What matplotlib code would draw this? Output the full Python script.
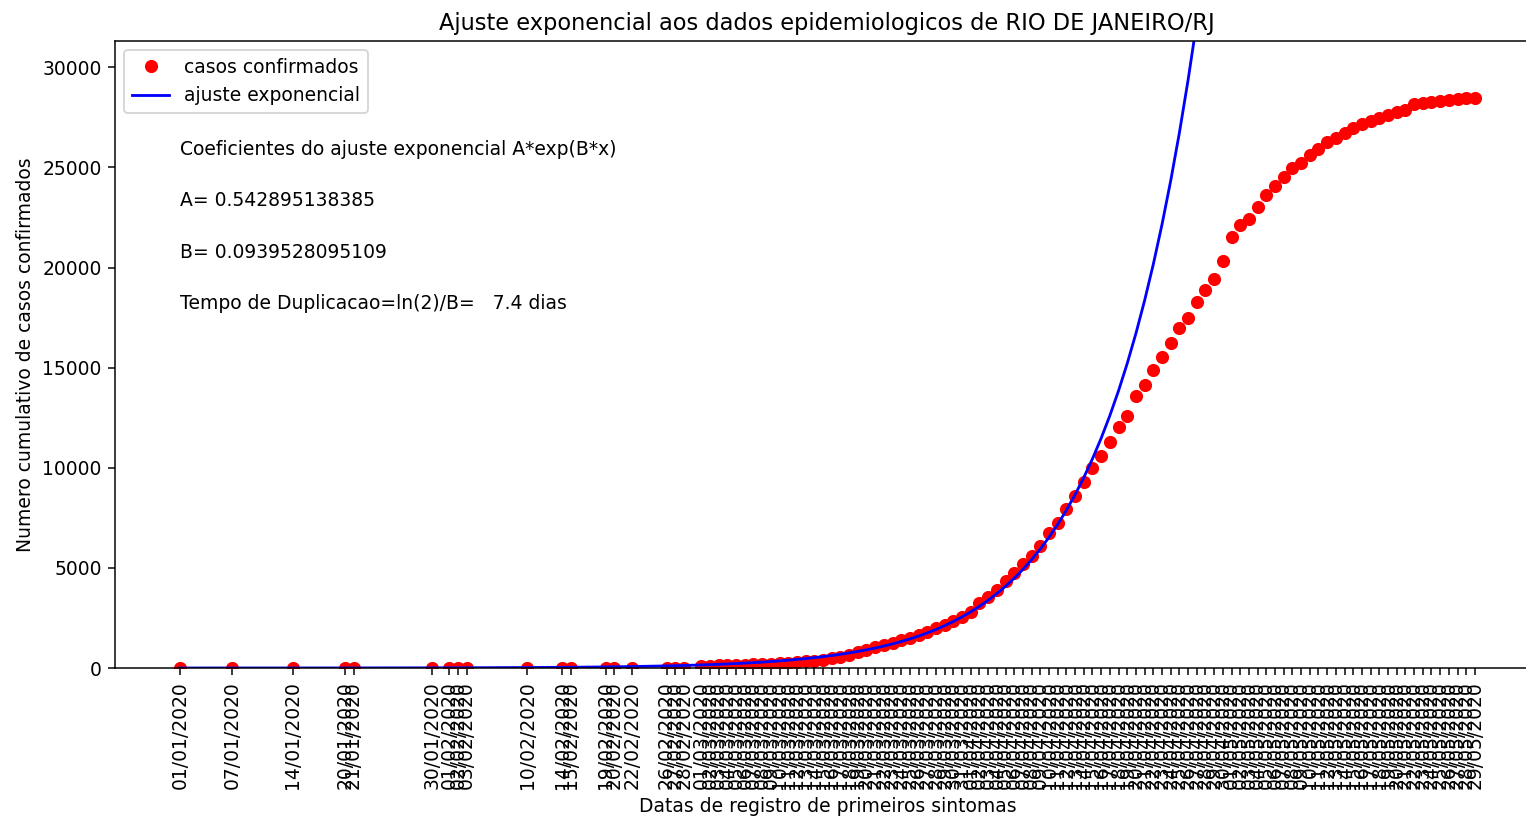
#!/usr/bin/env python3
#
from datetime import datetime

import matplotlib
matplotlib.use('Agg')
import matplotlib.pyplot as plt
import numpy as np
import pandas as pd

CITY = 'RIO DE JANEIRO/RJ'
DPI = 135

# fit coefficients A*exp(B*x), x = days since 01/01/2020
COEF_A = 0.542895138385
COEF_B = 0.0939528095109

EARLY_DATES = ['01/01/2020', '07/01/2020', '14/01/2020', '20/01/2020', '21/01/2020',
               '30/01/2020', '01/02/2020', '02/02/2020', '03/02/2020', '10/02/2020',
               '14/02/2020', '15/02/2020', '19/02/2020', '20/02/2020', '22/02/2020',
               '26/02/2020', '27/02/2020', '28/02/2020']
# from 01/03 on there is one record per day up to 29/05
DAILY_START = '01/03/2020'
DAILY_END = '29/05/2020'

EARLY_CASES = [1, 2, 3, 4, 5, 6, 7, 8, 9, 10, 11, 12, 13, 14, 15, 17, 18, 20]
DAILY_CASES = [
  110, 120, 130, 140, 150, 165, 180, 195, 215, 235,
  260, 290, 325, 370, 420, 480, 560, 649, 784, 899,
  1033, 1148, 1263, 1398, 1513, 1647, 1810, 1980, 2146, 2346,
  2530, 2810, 3230, 3530, 3894, 4343, 4757, 5177, 5591, 6090,
  6724, 7254, 7922, 8586, 9300, 9999, 10600, 11300, 12015, 12580,
  13593, 14142, 14880, 15525, 16225, 16970, 17470, 18270, 18870, 19420,
  20320, 21530, 22110, 22450, 23030, 23610, 24080, 24500, 24950, 25200,
  25610, 25940, 26270, 26490, 26720, 26970, 27160, 27310, 27470, 27610,
  27770, 27890, 28160, 28220, 28270, 28340, 28390, 28440, 28470, 28470,
]


def get_data():
  daily = pd.date_range(pd.to_datetime(DAILY_START, dayfirst=True),
                        pd.to_datetime(DAILY_END, dayfirst=True), freq='D')
  labels = EARLY_DATES + [d.strftime('%d/%m/%Y') for d in daily]
  origin = datetime.strptime(EARLY_DATES[0], '%d/%m/%Y')
  days = np.array([(datetime.strptime(lbl, '%d/%m/%Y') - origin).days for lbl in labels])
  cases = np.array(EARLY_CASES + DAILY_CASES)
  return labels, days, cases


def graph(filename):
  labels, days, cases = get_data()
  fit = COEF_A * np.exp(COEF_B * days)
  ymax = cases.max()

  fig = plt.figure(figsize=(1526 / DPI, 817 / DPI), dpi=DPI)
  # right spine falls just outside the picture, as in the original
  axgc = fig.add_axes([115 / 1526, 149 / 817, 1424.7 / 1526, 627 / 817])
  axgc.plot(days, cases, 'ro', label='casos confirmados')
  axgc.plot(days, fit, 'b-', label='ajuste exponencial')

  axgc.set_xticks(days)
  axgc.set_xticklabels(labels, rotation=90)
  axgc.set_ylim(0, 1.1 * ymax)
  axgc.set_xlim(days.min() - 0.05 * np.ptp(days), days.max() + 0.05 * np.ptp(days))

  axgc.text(0, 0.90 * ymax, 'Coeficientes do ajuste exponencial A*exp(B*x)')
  axgc.text(0, 0.81 * ymax, 'A= ' + str(COEF_A))
  axgc.text(0, 0.72 * ymax, 'B= ' + str(COEF_B))
  axgc.text(0, 0.63 * ymax, 'Tempo de Duplicacao=ln(2)/B=   %.1f dias' % (np.log(2) / COEF_B))

  axgc.set_title('Ajuste exponencial aos dados epidemiologicos de ' + CITY)
  axgc.set_xlabel('Datas de registro de primeiros sintomas')
  axgc.set_ylabel('Numero cumulativo de casos confirmados')
  axgc.legend(loc='upper left')

  fig.savefig(filename, dpi=DPI)
  plt.close(fig)


if __name__ == '__main__':
  graph('out.png')
